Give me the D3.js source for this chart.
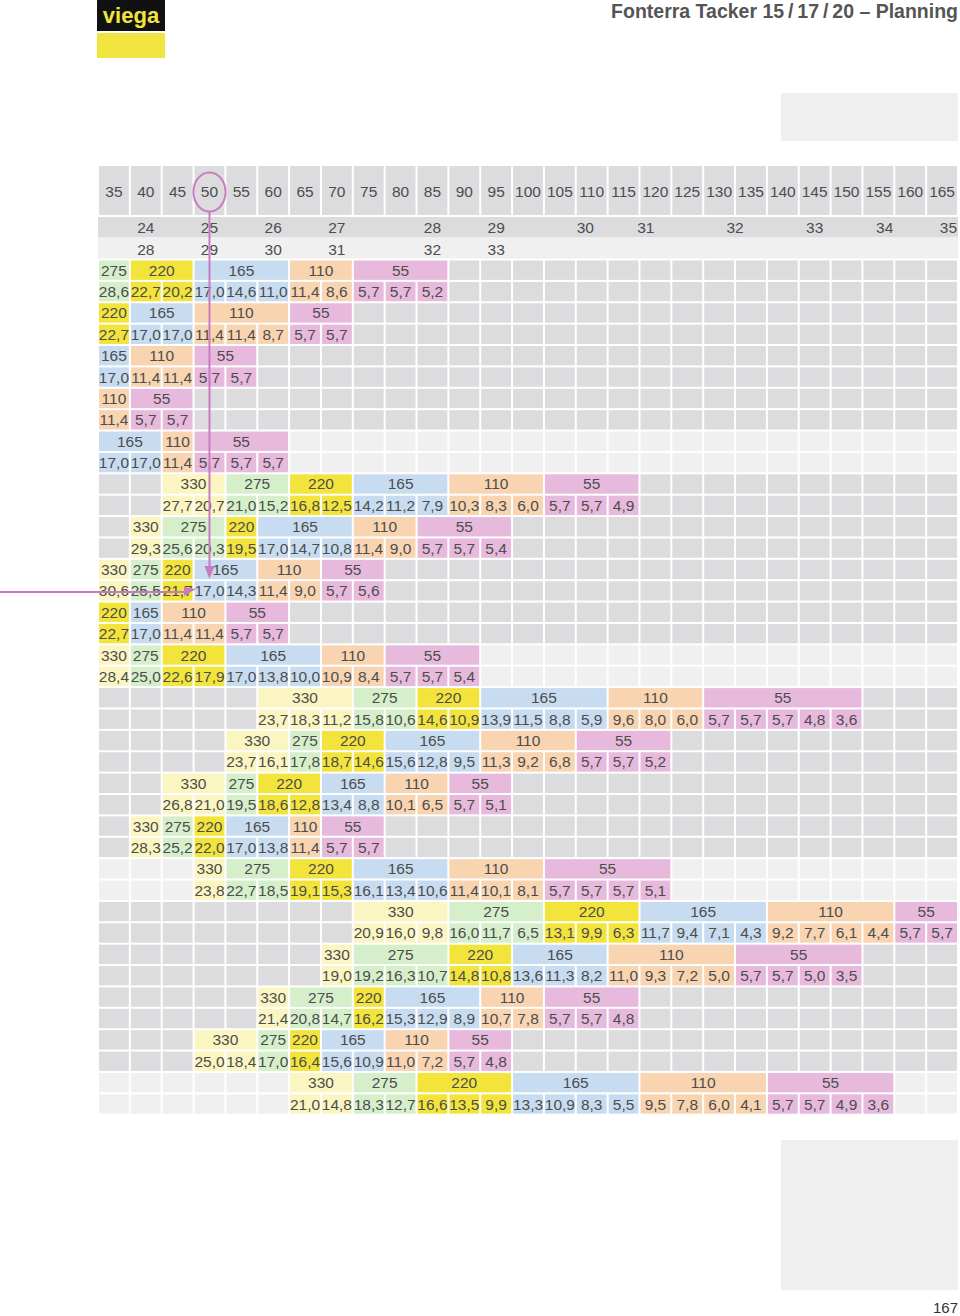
<!DOCTYPE html>
<html><head><meta charset="utf-8">
<script src="https://cdn.jsdelivr.net/npm/d3@7"></script>
<style>
body{margin:0;background:#fff}
svg{display:block}
text{font-family:"Liberation Sans",Arial,Helvetica,sans-serif}
</style></head><body>
<svg id="page" width="960" height="1316"></svg>
<script>
// laying distances (header), spacing rows, and output classes
var widths = [35,40,45,50,55,60,65,70,75,80,85,90,95,100,105,110,115,120,125,130,135,140,145,150,155,160,165]
var spacingTop = [24,25,26,27,28,29,30,31,32,33,34,35]
var spacingTopAt = [40,50,60,70,85,95,109,118.5,132.5,145,156,166]
var spacingBottom = [28,29,30,31,32,33]
var spacingBottomAt = [40,50,60,70,85,95]
var outputs = [330,275,220,165,110,55]
var colors = {330:'#fbf5c1',275:'#d5efca',220:'#f3e43c',165:'#c7dcf0',110:'#f8d4b1',55:'#e7badd'}

// one entry per block of two rows
var rowStart = [35,35,35,35,35, 45,40,35,35,35, 60,55,45,40,50, 75,70,60,50,65]
var rowShade = ['d','d','d','d','l','d','d','d','d','l','d','d','d','d','l','d','d','d','d','l']
var rowSpans = [
	[1,2,3,2,3],[1,2,3,2],[1,2,2],[1,2],[2,1,3],
	[2,2,2,3,3,3],[1,2,1,3,2,3],[1,1,1,2,2,2],[1,1,2,2],[1,1,2,3,2,3],
	[3,2,2,4,3,5],[2,1,2,3,3,3],[2,1,2,2,2,2],[1,1,1,2,1,2],[1,2,2,3,3,4],
	[3,3,3,4,4,2],[1,3,2,3,4,4],[1,2,1,3,2,3],[2,1,1,2,2,2],[2,2,3,4,4,4]
]
var rowValues = [
	[28.6,22.7,20.2,17.0,14.6,11.0,11.4,8.6,5.7,5.7,5.2],
	[22.7,17.0,17.0,11.4,11.4,8.7,5.7,5.7],
	[17.0,11.4,11.4,5.7,5.7],
	[11.4,5.7,5.7],
	[17.0,17.0,11.4,5.7,5.7,5.7],
	[27.7,20.7,21.0,15.2,16.8,12.5,14.2,11.2,7.9,10.3,8.3,6.0,5.7,5.7,4.9],
	[29.3,25.6,20.3,19.5,17.0,14.7,10.8,11.4,9.0,5.7,5.7,5.4],
	[30.6,25.5,21.7,17.0,14.3,11.4,9.0,5.7,5.6],
	[22.7,17.0,11.4,11.4,5.7,5.7],
	[28.4,25.0,22.6,17.9,17.0,13.8,10.0,10.9,8.4,5.7,5.7,5.4],
	[23.7,18.3,11.2,15.8,10.6,14.6,10.9,13.9,11.5,8.8,5.9,9.6,8.0,6.0,5.7,5.7,5.7,4.8,3.6],
	[23.7,16.1,17.8,18.7,14.6,15.6,12.8,9.5,11.3,9.2,6.8,5.7,5.7,5.2],
	[26.8,21.0,19.5,18.6,12.8,13.4,8.8,10.1,6.5,5.7,5.1],
	[28.3,25.2,22.0,17.0,13.8,11.4,5.7,5.7],
	[23.8,22.7,18.5,19.1,15.3,16.1,13.4,10.6,11.4,10.1,8.1,5.7,5.7,5.7,5.1],
	[20.9,16.0,9.8,16.0,11.7,6.5,13.1,9.9,6.3,11.7,9.4,7.1,4.3,9.2,7.7,6.1,4.4,5.7,5.7],
	[19.0,19.2,16.3,10.7,14.8,10.8,13.6,11.3,8.2,11.0,9.3,7.2,5.0,5.7,5.7,5.0,3.5],
	[21.4,20.8,14.7,16.2,15.3,12.9,8.9,10.7,7.8,5.7,5.7,4.8],
	[25.0,18.4,17.0,16.4,15.6,10.9,11.0,7.2,5.7,4.8],
	[21.0,14.8,18.3,12.7,16.6,13.5,9.9,13.3,10.9,8.3,5.5,9.5,7.8,6.0,4.1,5.7,5.7,4.9,3.6]
]

var shade = {d:'#dcdcde', l:'#f0f0f1'}
var ink = '#4d4d4d'
var pink = '#c87cbf'
var de = d3.formatLocale({decimal:',', thousands:'.', grouping:[3], currency:['','€']})
var fmt = de.format('.1f')

var svg = d3.select('#page')
var x = d3.scaleLinear().domain([35,170]).range([98,958])
var colW = x(40) - x(35)
var y = d3.scaleLinear().domain([0,40]).range([259.5,1114.7])
var rowH = y(1) - y(0)
var fs = '15.5px'

// logo
svg.append('rect').attr('x',97).attr('y',0).attr('width',68).attr('height',31).attr('fill','#111')
svg.append('rect').attr('x',97).attr('y',33).attr('width',68).attr('height',25).attr('fill','#f2e43f')
svg.append('text').attr('x',131).attr('y',23).attr('text-anchor','middle')
	.style('font-size','22px').style('font-weight','bold').attr('fill','#f2e43f').text('viega')

// title
svg.append('text').attr('x',958).attr('y',18).attr('text-anchor','end')
	.style('font-size','19.5px').style('font-weight','bold').attr('fill','#555')
	.text('Fonterra Tacker 15\u2009/\u200917\u2009/\u200920 – Planning')

svg.append('rect').attr('x',781).attr('y',93).attr('width',177).attr('height',48).attr('fill','#efeff0')
svg.append('rect').attr('x',781).attr('y',1140).attr('width',177).attr('height',150).attr('fill','#efeff0')
svg.append('text').attr('x',958).attr('y',1313).attr('text-anchor','end')
	.style('font-size','15px').attr('fill','#333').text('167')

// header row
var head = svg.append('g')
head.selectAll('rect').data(widths).join('rect')
	.attr('x',d=>x(d)+1).attr('y',166).attr('width',colW-2).attr('height',49)
	.attr('fill',shade.d)
head.selectAll('text').data(widths).join('text')
	.attr('x',d=>x(d)+colW/2).attr('y',196.5).attr('text-anchor','middle')
	.style('font-size',fs).attr('fill',ink).text(d=>d)

// spacing rows
svg.append('rect').attr('x',98).attr('y',217).attr('width',860).attr('height',20.5).attr('fill',shade.d)
svg.append('rect').attr('x',98).attr('y',238).attr('width',860).attr('height',20.5).attr('fill',shade.l)
svg.append('g').selectAll('text').data(spacingTop).join('text')
	.attr('x',(d,i)=>x(spacingTopAt[i])+colW/2).attr('y',233).attr('text-anchor','middle')
	.style('font-size',fs).attr('fill',ink).text(d=>d)
svg.append('g').selectAll('text').data(spacingBottom).join('text')
	.attr('x',(d,i)=>x(spacingBottomAt[i])+colW/2).attr('y',254.5).attr('text-anchor','middle')
	.style('font-size',fs).attr('fill',ink).text(d=>d)

// blocks
var body = svg.append('g')
rowValues.forEach(function(vals, g){
	var start = rowStart[g]
	var spans = rowSpans[g]
	var labels = outputs.slice(outputs.length - spans.length)
	var r0 = 2*g, r1 = 2*g+1
	var startIdx = widths.indexOf(start)
	var cells = []
	spans.forEach(function(n, k){ for (var j=0;j<n;j++) cells.push(labels[k]) })
	// empty cells
	widths.forEach(function(w, c){
		if (c >= startIdx && c < startIdx + cells.length) return
		;[r0, r1].forEach(function(r){
			body.append('rect').attr('x',x(w)+1).attr('y',y(r)+1)
				.attr('width',colW-2).attr('height',rowH-2).attr('fill',shade[rowShade[g]])
		})
	})
	// output spans
	var c = startIdx
	spans.forEach(function(n, k){
		var x0 = x(widths[c]), x1 = x(widths[c]) + n*colW
		body.append('rect').attr('x',x0+1).attr('y',y(r0)+1)
			.attr('width',x1-x0-2).attr('height',rowH-2).attr('fill',colors[labels[k]])
		body.append('text').attr('x',(x0+x1)/2).attr('y',y(r0)+rowH/2+5.5)
			.attr('text-anchor','middle').style('font-size',fs).attr('fill',ink).text(labels[k])
		c += n
	})
	// values
	vals.forEach(function(v, j){
		var w = widths[startIdx + j]
		body.append('rect').attr('x',x(w)+1).attr('y',y(r1)+1)
			.attr('width',colW-2).attr('height',rowH-2).attr('fill',colors[cells[j]])
		body.append('text').attr('x',x(w)+colW/2).attr('y',y(r1)+rowH/2+5.5)
			.attr('text-anchor','middle').style('font-size',fs).attr('fill',ink).text(fmt(v))
	})
})

// reading example: width 50 down to block 8, across to the left
var ex = x(50) + colW/2
var ann = svg.append('g').attr('fill','none').attr('stroke',pink).attr('stroke-width',2)
ann.append('ellipse').attr('cx',ex).attr('cy',192).attr('rx',16).attr('ry',19.5)
ann.append('line').attr('x1',ex).attr('y1',211.5).attr('x2',ex).attr('y2',570)
svg.append('path').attr('d','M'+(ex-5)+',566 L'+(ex+5)+',566 L'+ex+',579 Z').attr('fill',pink)
var ay = y(15) + rowH/2 + 1
ann.append('line').attr('x1',0).attr('y1',ay).attr('x2',186).attr('y2',ay)
svg.append('path').attr('d','M184,'+(ay-5)+' L196,'+(ay-3)+' L184,'+(ay+4)+' Z').attr('fill',pink)
</script>
</body></html>
